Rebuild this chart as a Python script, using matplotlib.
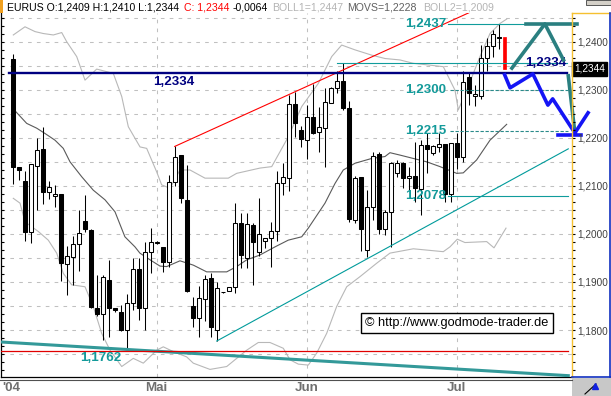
import numpy as np
import matplotlib
matplotlib.use("Agg")
import matplotlib.pyplot as plt
from matplotlib.ticker import MultipleLocator, FuncFormatter
from matplotlib.patches import Rectangle
from matplotlib.lines import Line2D
import matplotlib.transforms as mtransforms

plt.rcParams['font.family'] = ['Liberation Sans', 'DejaVu Sans']

# EUR/USD Tageskerzen (Apr - Jul 2004)
opens = [1.2365, 1.2140, 1.2110, 1.2003, 1.2142, 1.2177, 1.2087, 1.2078, 1.2083, 1.1937,
         1.1951, 1.1980, 1.2027, 1.2008, 1.1845, 1.1833, 1.1904, 1.1845, 1.1838, 1.1799,
         1.1857, 1.1926, 1.1845, 1.1963, 1.1982, 1.1973, 1.1941, 1.2109, 1.2164, 1.2071,
         1.1849, 1.1826, 1.1864, 1.1908, 1.1801, 1.1879, 1.1882, 1.1889, 1.2022, 1.1950,
         1.2019, 1.1962, 1.1985, 1.1991, 1.2005, 1.2105, 1.2116, 1.2270, 1.2216, 1.2196,
         1.2243, 1.2212, 1.2220, 1.2272, 1.2303, 1.2319, 1.2263, 1.2029, 1.2118, 1.1966,
         1.2057, 1.2166, 1.2010, 1.2046, 1.2127, 1.2147, 1.2116, 1.2121, 1.2093, 1.2186,
         1.2169, 1.2180, 1.2187, 1.2083, 1.2190, 1.2159, 1.2326, 1.2287, 1.2287, 1.2367,
         1.2391, 1.2410, 1.2409]
highs = [1.2374, 1.2140, 1.2131, 1.2145, 1.2199, 1.2222, 1.2110, 1.2102, 1.2083, 1.1975,
         1.1996, 1.2050, 1.2081, 1.2010, 1.1914, 1.1914, 1.1945, 1.1846, 1.1852, 1.1875,
         1.1949, 1.1949, 1.1984, 1.2013, 1.1986, 1.1973, 1.2123, 1.2182, 1.2165, 1.2143,
         1.1869, 1.1891, 1.1914, 1.1918, 1.1899, 1.1880, 1.1890, 1.2064, 1.2043, 1.2044,
         1.2022, 1.2074, 1.1991, 1.2025, 1.2131, 1.2147, 1.2290, 1.2296, 1.2225, 1.2268,
         1.2311, 1.2265, 1.2303, 1.2306, 1.2338, 1.2355, 1.2277, 1.2121, 1.2118, 1.2091,
         1.2171, 1.2170, 1.2050, 1.2150, 1.2154, 1.2150, 1.2140, 1.2192, 1.2195, 1.2209,
         1.2186, 1.2211, 1.2187, 1.2190, 1.2209, 1.2338, 1.2334, 1.2310, 1.2393, 1.2407,
         1.2424, 1.2437, 1.2410]
lows = [1.2104, 1.2112, 1.1985, 1.1982, 1.2050, 1.2062, 1.2073, 1.2055, 1.1903, 1.1873,
        1.1894, 1.1923, 1.2003, 1.1845, 1.1830, 1.1779, 1.1785, 1.1838, 1.1797, 1.1762,
        1.1841, 1.1820, 1.1800, 1.1918, 1.1980, 1.1920, 1.1932, 1.2099, 1.2065, 1.1880,
        1.1807, 1.1786, 1.1818, 1.1786, 1.1777, 1.1878, 1.1881, 1.1876, 1.1928, 1.1930,
        1.1894, 1.1953, 1.1970, 1.1932, 1.1986, 1.2080, 1.2090, 1.2201, 1.2181, 1.2156,
        1.2207, 1.2171, 1.2140, 1.2272, 1.2294, 1.2257, 1.2025, 1.2023, 1.1965, 1.1951,
        1.2029, 1.2000, 1.1998, 1.1973, 1.2118, 1.2095, 1.2091, 1.2067, 1.2039, 1.2127,
        1.2165, 1.2170, 1.2067, 1.2067, 1.2136, 1.2150, 1.2268, 1.2266, 1.2281, 1.2338,
        1.2368, 1.2385, 1.2344]
closes = [1.2140, 1.2134, 1.2003, 1.2145, 1.2175, 1.2088, 1.2097, 1.2083, 1.1939, 1.1955,
          1.1978, 1.2001, 1.2010, 1.1848, 1.1833, 1.1910, 1.1845, 1.1842, 1.1799, 1.1857,
          1.1926, 1.1846, 1.1963, 1.1984, 1.1983, 1.1942, 1.2109, 1.2161, 1.2074, 1.1882,
          1.1826, 1.1866, 1.1906, 1.1806, 1.1887, 1.1879, 1.1889, 1.2022, 1.1956, 1.2020,
          1.1984, 1.2000, 1.1991, 1.2005, 1.2105, 1.2118, 1.2270, 1.2230, 1.2197, 1.2244,
          1.2211, 1.2222, 1.2274, 1.2303, 1.2319, 1.2263, 1.2031, 1.2116, 1.2010, 1.2057,
          1.2163, 1.2010, 1.2046, 1.2147, 1.2147, 1.2116, 1.2121, 1.2096, 1.2185, 1.2177,
          1.2183, 1.2188, 1.2084, 1.2190, 1.2159, 1.2317, 1.2293, 1.2291, 1.2367, 1.2391,
          1.2417, 1.2408, 1.2344]

# Monatsanfaenge (Kerzenindex)
month_pos = [-0.3, 24, 49, 74]
month_labels = ["'04", "Mai", "Jun", "Jul"]

# gleitender Durchschnitt und Bollinger-Baender
ma_x = [0.1, 2.33, 4.0, 5.38, 7.05, 8.43, 9.55, 11.5, 13.43, 15.38, 17.05, 18.7, 20.38, 21.2, 22.9,
        24.55, 25.67, 27.88, 30.1, 32.33, 35.67, 37.33, 39.0, 41.2, 43.72, 45.93, 48.17, 49.27,
        52.05, 53.72, 55.1, 57.05, 59.83, 62.05, 62.88, 64.55, 66.77, 69.0, 71.22, 74.0, 75.1,
        77.33, 79.55, 82.33]
ma_y = [1.2260, 1.2230, 1.2220, 1.2209, 1.2195, 1.2178, 1.2150, 1.2119, 1.2091, 1.2071, 1.2046,
        1.1994, 1.1973, 1.1960, 1.1946, 1.1933, 1.1932, 1.1944, 1.1935, 1.1921, 1.1921, 1.1932,
        1.1946, 1.1956, 1.1973, 1.1987, 1.1994, 1.2012, 1.2064, 1.2105, 1.2133, 1.2147, 1.2157,
        1.2161, 1.2169, 1.2164, 1.2157, 1.2150, 1.2140, 1.2126, 1.2127, 1.2154, 1.2195, 1.2228]
bb_up_x = [0.1, 2.05, 3.72, 5.1, 6.77, 8.17, 9.0, 10.67, 12.05, 14.0, 16.77, 18.17, 19.27, 21.22,
           22.33, 24.0, 24.83, 26.22, 27.88, 29.55, 32.05, 35.93, 37.33, 41.22, 43.17, 45.93,
           48.17, 50.93, 53.17, 54.83, 57.05, 59.83, 62.05, 64.55, 66.77, 71.77, 73.72, 74.27,
           75.67, 77.88, 79.55, 81.22, 82.33]
bb_up_y = [1.2414, 1.2431, 1.2421, 1.2417, 1.2414, 1.2419, 1.2400, 1.2369, 1.2320, 1.2343,
           1.2334, 1.2286, 1.2223, 1.2181, 1.2178, 1.2129, 1.2102, 1.2095, 1.2133, 1.2133,
           1.2116, 1.2116, 1.2126, 1.2137, 1.2140, 1.2202, 1.2265, 1.2313, 1.2369, 1.2393,
           1.2383, 1.2372, 1.2365, 1.2362, 1.2355, 1.2348, 1.2299, 1.2258, 1.2299, 1.2369,
           1.2417, 1.2438, 1.2447]
bb_lo_x = [0.1, 1.22, 2.05, 4.27, 5.93, 7.33, 8.43, 9.83, 12.05, 13.43, 14.83, 16.22, 18.17,
           20.1, 21.77, 24.0, 25.1, 26.77, 29.0, 30.1, 32.88, 35.67, 39.0, 40.93, 42.88, 45.1,
           46.22, 47.6, 49.27, 50.67, 52.33, 54.0, 55.67, 57.88, 60.67, 62.88, 66.77, 71.77,
           72.88, 74.1, 75.38, 79.0, 80.22, 82.22]
bb_lo_y = [1.2074, 1.2064, 1.2025, 1.2005, 1.1987, 1.1960, 1.1918, 1.1894, 1.1890, 1.1849,
           1.1793, 1.1758, 1.1724, 1.1741, 1.1731, 1.1758, 1.1765, 1.1755, 1.1744, 1.1731,
           1.1718, 1.1724, 1.1758, 1.1774, 1.1774, 1.1762, 1.1738, 1.1729, 1.1727, 1.1752,
           1.1793, 1.1849, 1.1890, 1.1911, 1.1939, 1.1960, 1.1969, 1.1963, 1.1973, 1.1989,
           1.1982, 1.1984, 1.1971, 1.2012]

# eingezeichnete Linien (Kerzenindex, Kurs)
resist_x, resist_y = [27, 76], [1.2182, 1.2460]
support_x, support_y = [34, 92.6], [1.1777, 1.2177]
longterm_x, longterm_y = [-1.9, 92.6], [1.1775, 1.1705]
low_level = 1.1757
key_level = 1.2334
hline_level = 1.2355
marks = [1.2437, 1.2300, 1.2215, 1.2078]
mark_labels = ["1,2437", "1,2300", "1,2215", "1,2078"]
mark_dashed = [False, True, True, False]

# Prognose-Pfeile
teal_x1, teal_y1 = [83.2, 88.7, 91.8], [1.2345, 1.2437, 1.2362]
teal_x2, teal_y2 = [92.6, 93.7], [1.2329, 1.2210]
teal_top_x = [85.6, 94.1]
blue_x = [82.0, 82.9, 86.7, 89.2, 90.0, 93.7]
blue_y = [1.2331, 1.2304, 1.2333, 1.2268, 1.2281, 1.2210]
blue_base_x, blue_base_y = [90.9, 94.7], [1.2206, 1.2206]
blue_arm_x, blue_arm_y = [93.7, 95.9], [1.2210, 1.2252]

W, H = 611, 396
fig = plt.figure(figsize=(W / 100, H / 100), dpi=100)
ax = fig.add_axes([1 / W, 19 / H, 571 / W, 364 / H])
ax.set_xlim(-1.95, 93.22)
ax.set_ylim(1.17022, 1.24597)

grid_kw = dict(color='#c0c0c0', lw=0.75, dashes=(3.5, 5), zorder=0)
for lev in np.arange(1.170, 1.2451, 0.005):
    ax.axhline(lev, **grid_kw)
for m in month_pos[1:]:
    ax.axvline(m, **grid_kw)

# Baender
ax.plot(bb_up_x, bb_up_y, color='#b8b8b8', lw=0.8, zorder=1)
ax.plot(bb_lo_x, bb_lo_y, color='#b8b8b8', lw=0.8, zorder=1)
ax.plot(ma_x, ma_y, color='#5a5a5a', lw=0.8, zorder=1)

# Kerzen
idx = np.arange(len(opens))
o = np.array(opens); c = np.array(closes)
ax.vlines(idx[:-1], lows[:-1], highs[:-1], color='black', lw=0.75, zorder=2)
bottom = np.minimum(o, c)
height = np.maximum(np.abs(c - o), 0.00006)
face = ['white' if cc >= oo else 'black' for oo, cc in zip(o, c)]
ax.bar(idx[:-1], height[:-1], bottom=bottom[:-1], width=0.62, color=face[:-1],
       edgecolor='black', linewidth=0.75, zorder=3)
ax.bar(idx[-1], height[-1], bottom=bottom[-1], width=0.55, color='#ff0000',
       edgecolor='#ff0000', linewidth=0.5, zorder=3)

# Linien
ax.plot(resist_x, resist_y, color='#ff0000', lw=0.8, zorder=4)
ax.plot(support_x, support_y, color='#009b9b', lw=0.8, zorder=4)
ax.plot(longterm_x, longterm_y, color='#339999', lw=2.2, zorder=4)
ax.plot([-1.9, 92.6], [low_level] * 2, color='#e00000', lw=0.9, zorder=4)
ax.plot([-0.6, 92.4], [key_level] * 2, color='#000080', lw=1.7, zorder=5)
ax.plot([54.1, 92.4], [hline_level] * 2, color='#109c9c', lw=0.8, zorder=4)

teal = '#139a9a'
for lev, lab, dsh in zip(marks, mark_labels, mark_dashed):
    start = 72.9 if dsh else 72.6
    if dsh:
        ax.plot([start, 92.6], [lev] * 2, color='#2a8a8a', lw=0.8, dashes=(3, 1.5), zorder=4)
    else:
        ax.plot([start, 92.6], [lev] * 2, color='#109c9c', lw=0.8, zorder=4)
    ax.text(72.3, lev, lab, color=teal, fontsize=9.6, fontweight='bold',
            ha='right', va='center', zorder=6)

ax.text(26.8, 1.2316, "1,2334", color='#000080', fontsize=9.6, fontweight='bold',
        ha='center', va='center', zorder=6)
ax.text(88.8, 1.2356, "1,2334", color='#000080', fontsize=9.6, fontweight='bold',
        ha='center', va='center', zorder=6)
ax.text(14.7, 1.1742, "1,1762", color=teal, fontsize=9.6, fontweight='bold',
        ha='center', va='center', zorder=6)

# Prognose
ax.plot(teal_x1, teal_y1, color='#2a7f80', lw=2.6, zorder=7, clip_on=False)
ax.plot(teal_x2, teal_y2, color='#2a7f80', lw=2.6, zorder=7, clip_on=False)
ax.plot(teal_top_x, [marks[0]] * 2, color='#2a7f80', lw=2.6, zorder=7, clip_on=False)
ax.plot(blue_x, blue_y, color='#1414f5', lw=2.6, zorder=8, clip_on=False)
ax.plot(blue_base_x, blue_base_y, color='#1414f5', lw=2.6, zorder=8, clip_on=False)
ax.plot(blue_arm_x, blue_arm_y, color='#1414f5', lw=2.6, zorder=8, clip_on=False)

ax.text(74.05, 1.18146, "\u00a9 http://www.godmode-trader.de", fontsize=9.2,
        ha='center', va='center', zorder=9,
        bbox=dict(boxstyle='square,pad=0.3', fc='white', ec='black', lw=1.0))

# Achsen
for s in ['top', 'right']:
    ax.spines[s].set_visible(False)
ax.spines['left'].set_color('black')
ax.spines['bottom'].set_color('black')
ax.spines['left'].set_linewidth(0.9)
ax.spines['bottom'].set_linewidth(0.9)
ax.set_xticks(month_pos)
ax.set_xticklabels(month_labels, fontsize=9.6, fontweight='bold', color='#707070')
ax.tick_params(axis='x', length=0, pad=3.5)
ax.yaxis.set_major_locator(MultipleLocator(0.01))
ax.yaxis.set_minor_locator(MultipleLocator(0.01 / 6))
ax.tick_params(axis='y', which='both', direction='in', length=2.5, width=0.8,
               left=True, right=False, labelleft=False)

ax2 = ax.twinx()
ax2.set_ylim(ax.get_ylim())
ax2.yaxis.set_major_locator(MultipleLocator(0.01))
ax2.yaxis.set_minor_locator(MultipleLocator(0.01 / 6))
ax2.yaxis.set_major_formatter(FuncFormatter(lambda v, p: f"{v:.4f}".replace('.', ',')))
ax2.tick_params(axis='y', which='both', direction='out', length=2.5, width=0.8,
                labelsize=7.2, labelcolor='#404040', pad=1.2)
for s in ['top', 'left', 'bottom']:
    ax2.spines[s].set_visible(False)
ax2.spines['right'].set_color('#f5c030')
ax2.spines['right'].set_linewidth(1.0)

trans = mtransforms.blended_transform_factory(ax.transAxes, ax.transData)
ax.text(1.004, 1.2344, "1,2344", transform=trans, color='white', fontsize=7.2,
        ha='left', va='center', zorder=10, clip_on=False,
        bbox=dict(boxstyle='square,pad=0.2', fc='black', ec='black'))

# Rahmen rechts und unten
def fl(x0, y0, x1, y1, **kw):
    fig.add_artist(Line2D([x0 / W, x1 / W], [1 - y0 / H, 1 - y1 / H], **kw))

fl(572, 13, 611, 13, color='#f5c030', lw=1.0)
fl(572, 377, 611, 377, color='#1030c0', lw=1.2)
fl(610.3, 13, 610.3, 377, color='#1030c0', lw=1.2)
fl(0, 380, 572, 380, color='#505050', lw=0.8)
fig.add_artist(Rectangle((572 / W, 0), 39 / W, 18.5 / H, transform=fig.transFigure,
                         fc='#c8c8c8', ec='none'))
fl(585, 394, 596, 384, color='black', lw=0.8)
fig.add_artist(Line2D([594.5 / W], [1 - 386 / H], marker='^', ms=5, color='#1020e0'))
fig.add_artist(Rectangle((0, 1 - 13 / H), 3 / W, 13 / H, transform=fig.transFigure,
                         fc='#f0a020', ec='none'))
fig.add_artist(Rectangle((586 / W, 1 - 5 / H), 25 / W, 5 / H, transform=fig.transFigure,
                         fc='#d4d0c8', ec='#404040', lw=0.6))

# Kopfzeile
hy = 1 - 7.5 / H
hdr = [(7, "EURUS O:1,2409 H:1,2410 L:1,2344", 'black'),
       (184, "C: 1,2344", '#ff0000'),
       (233, "-0,0064", 'black'),
       (272, "BOLL1=1,2447", '#b4b4b4'),
       (347, "MOVS=1,2228", '#606060'),
       (423, "BOLL2=1,2009", '#b4b4b4')]
for x, s, col in hdr:
    fig.text(x / W, hy, s, color=col, fontsize=7.6, ha='left', va='center')

fig.savefig("out.png", dpi=100)
